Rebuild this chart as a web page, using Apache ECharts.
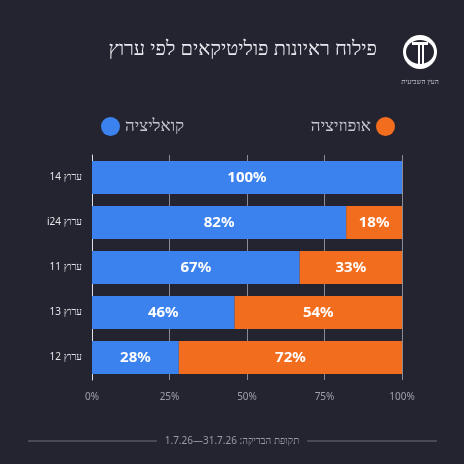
<!DOCTYPE html>
<html dir="rtl"><head><meta charset="utf-8">
<script src="https://cdn.jsdelivr.net/npm/echarts@6/dist/echarts.min.js"></script>
<style>html,body{margin:0;background:#23242f}#c{width:464px;height:464px}</style>
</head><body><div id="c"></div>
<script>
const categories = ['ערוץ 14','ערוץ i24','ערוץ 11','ערוץ 13','ערוץ 12'];
const coalition = [100, 82, 67, 46, 28];
const opposition = [0, 18, 33, 54, 72];
const ticks = ['0%','25%','50%','75%','100%'];
const FONT = 'Noto Sans';
const chart = echarts.init(document.getElementById('c'));
const lbl = {show:true, position:'inside', color:'#fff', fontSize:15, fontWeight:'bold', fontFamily:FONT,
  formatter: p => p.value > 0 ? p.value + '%' : ''};
chart.setOption({
  backgroundColor:'#23242f',
  animation:false,
  title:{text:'פילוח ראיונות פוליטיקאים לפי ערוץ', right:82, top:34,
    textStyle:{color:'#e8e8ee', fontSize:20, fontWeight:'normal', fontFamily:FONT}},
  legend:[
    {data:['קואליציה'], left:96, top:112, itemWidth:19, itemHeight:19, itemGap:8, icon:'circle', align:'left',
      textStyle:{color:'#c8c8d0', fontSize:17, fontFamily:FONT}},
    {data:['אופוזיציה'], right:64, top:112, itemWidth:19, itemHeight:19, icon:'circle', align:'right',
      textStyle:{color:'#c8c8d0', fontSize:17, fontFamily:FONT}}
  ],
  grid:{left:92, right:62, top:155, bottom:84},
  xAxis:{type:'value', min:0, max:100, interval:25,
    axisLabel:{formatter:v=>v+'%', color:'#a0a0aa', fontSize:10, fontFamily:FONT, margin:12},
    splitLine:{show:true, lineStyle:{color:'#8a8a92', width:1}},
    axisLine:{show:false}, axisTick:{show:false}},
  yAxis:{type:'category', data:categories, inverse:true,
    axisLine:{show:true, lineStyle:{color:'#e0e0e6', width:1}}, axisTick:{show:false},
    axisLabel:{color:'#e6e6ea', fontSize:10, fontFamily:FONT, margin:10}},
  series:[
    {name:'קואליציה', type:'bar', stack:'a', data:coalition, barWidth:33, itemStyle:{color:'#3b82ee'}, label:lbl},
    {name:'אופוזיציה', type:'bar', stack:'a', data:opposition, barWidth:33, itemStyle:{color:'#f36d1e'}, label:lbl}
  ],
  graphic:[
    {type:'circle', shape:{cx:420, cy:52, r:17}, style:{fill:'#ffffff'}},
    {type:'ellipse', shape:{cx:420, cy:52, rx:14, ry:12}, style:{fill:'#23242f'}},
    {type:'rect', shape:{x:412, y:42, width:16, height:3}, style:{fill:'#fff'}},
    {type:'rect', shape:{x:418, y:42, width:2, height:22}, style:{fill:'#fff'}},
    {type:'rect', shape:{x:422, y:42, width:2, height:22}, style:{fill:'#fff'}},
    {type:'text', x:420, y:78, style:{text:'העין השביעית', fill:'#d0d0d8', fontSize:7, fontFamily:FONT, align:'center'}},
    {type:'line', shape:{x1:28, y1:441, x2:157, y2:441}, style:{stroke:'#70707a', lineWidth:1}},
    {type:'line', shape:{x1:307, y1:441, x2:437, y2:441}, style:{stroke:'#70707a', lineWidth:1}},
    {type:'text', x:232, y:441, style:{text:'תקופת הבדיקה: 31.7.26—1.7.26', fill:'#9a9aa4', fontSize:10, fontFamily:FONT, align:'center', verticalAlign:'middle'}}
  ]
});
</script></body></html>
